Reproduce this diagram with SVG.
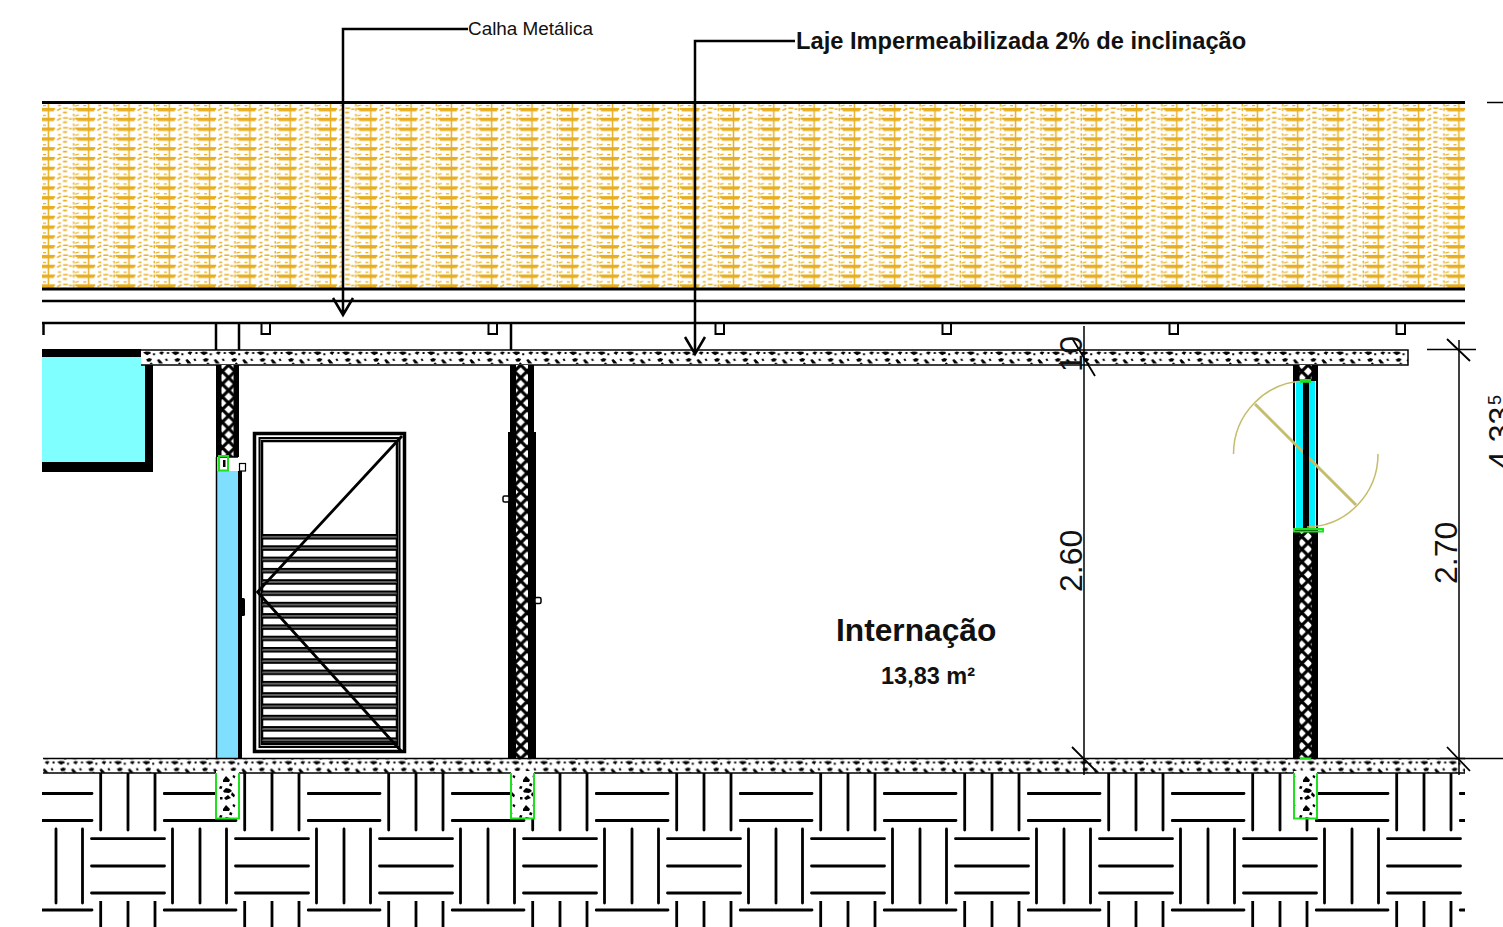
<svg xmlns="http://www.w3.org/2000/svg" xmlns:xlink="http://www.w3.org/1999/xlink" width="1503" height="927" viewBox="0 0 1503 927">
<style>
text{font-family:"Liberation Sans",Arial,sans-serif;fill:#111}
.k{stroke:#000;fill:none}
.b{font-weight:bold}
.gr{fill:none;stroke:#1fe01f;stroke-width:2}
.ar{fill:none;stroke:#c4bd6c}
</style>
<defs>
<pattern id="ins" width="40.3" height="9.8" patternUnits="userSpaceOnUse" patternTransform="translate(42 104)">
<g stroke="#e6ae20" fill="none">
<path d="M33 4.800H41M-7.300 4.800H13M-5 6.400H12M35 6.400H41" stroke-width="2"/>
<path d="M6.400 0V9.800" stroke-width="1.500"/>
<path d="M31.700 0V2.500M31.700 4V7" stroke-width="1.400"/>
<path d="M15 6.500L19 4.500M21 4.200H26M27 5.200H30M21 8.500H25M16 1.500H19" stroke-width="1.600"/>
<path d="M33 2L37 1M1 1.500H4" stroke-width="1.200"/>
</g>
</pattern>
<g id="blobs">
<path d="M1 2.500l3-1 4 .2 1 1.500-4 2zM17 3l2-1.500 3 .5-2 3zM11 3.200h2v2h-2zM25 2h2v2h-2zM4 9.500l3-1.500 3 1-1.500 2.500-3 .2zM15 10l2-1 2 2 2 2.500-4 0zM23 9l1.800-.6 1.200 2-1.800 .8zM8 13l1.500-.6 1.200 1.600h-2.700z" fill="#000"/>
</g>
<pattern id="con1" width="28.4" height="15" patternUnits="userSpaceOnUse" patternTransform="translate(142 350)"><use xlink:href="#blobs"/></pattern>
<pattern id="con2" width="28.4" height="14" patternUnits="userSpaceOnUse" patternTransform="translate(56 759.500)"><use xlink:href="#blobs"/></pattern>
<pattern id="con3" width="20" height="29" patternUnits="userSpaceOnUse" patternTransform="translate(218 773)">
<path d="M5 7l3-4 4 4-1 2H5zM12 10l2.500 1-1 2.500-2.500-1zM2 13l2.500 .5-1 2.500-2.500-.5zM5 18l3-3 4 1 2 2-3 2-5-.5zM14 19l3 3-1 2.500-3-2.500zM6 25l4-3 3 3-5 2zM2 24h2.500v2.500H2zM15 2l2.500 1-1 2.500-2-1.500z" fill="#000"/>
</pattern>
<pattern id="lat" width="12.7" height="12.7" patternUnits="userSpaceOnUse" patternTransform="translate(0 365)">
<rect width="12.7" height="12.700" fill="#fff"/>
<path d="M0 0L12.700 12.700M12.700 0L0 12.700" stroke="#000" stroke-width="3.200"/>
</pattern>
<pattern id="floor" width="144" height="144" patternUnits="userSpaceOnUse" patternTransform="translate(19 757)">
<g stroke="#000" stroke-width="2.800" stroke-linecap="round" fill="none">
<path d="M1 9H73M1 36.500H73M1 63.500H73"/>
<path d="M81.700 0V73M109 0V73M136 0V73"/>
<path d="M72.500 81.700H147M72.500 109H147M72.500 136H147M-3 81.700H1.500M-3 109H1.500M-3 136H1.500"/>
<path d="M9.500 72V146M37 72V146M63.500 72V146M9.500 -3V2M37 -3V2M63.500 -3V2"/>
</g>
</pattern>
<pattern id="lou" width="144" height="11.300" patternUnits="userSpaceOnUse" patternTransform="translate(262 534)">
<rect width="144" height="2.400" y="0" fill="#000"/><rect width="144" height="1.300" y="2.400" fill="#555"/><rect width="144" height="1.800" y="3.700" fill="#000"/>
</pattern>
</defs>

<g id="insulation">
<rect x="42" y="103" width="1423" height="185" fill="url(#ins)"/>
<path class="k" stroke-width="3" d="M42 102.500H1465M42 289H1465"/>
<path class="k" stroke-width="2.500" d="M42 301H1465"/>
<path class="k" stroke-width="1.500" d="M1487 102.500H1503"/>
</g>

<g id="gutter">
<path class="k" stroke-width="2.500" d="M42 323H1465M43.500 323V335M216 323V350M239 323V350M511 323V350"/>
<path class="k" stroke-width="2" d="M261.500 323V334H270V323M488.500 323V334H497V323M715.500 323V334H724V323M942.500 323V334H951V323M1169.500 323V334H1178V323M1396.500 323V334H1405V323"/>
</g>

<g id="window-left">
<rect x="42" y="355" width="104" height="108" fill="#7fffff"/>
<rect x="42" y="349" width="99" height="8" fill="#000"/>
<rect x="145" y="365" width="8" height="107" fill="#000"/>
<rect x="42" y="462" width="111" height="10" fill="#000"/>
</g>

<g id="slab">
<rect x="141" y="350" width="1267" height="15" fill="#fff"/>
<rect x="141" y="350" width="1267" height="15" fill="url(#con1)"/>
<path class="k" stroke-width="1.500" d="M141 350H1408V365H141"/>
</g>

<g id="wall-1">
<rect x="216" y="365" width="23" height="92" fill="#000"/>
<rect x="221.500" y="365" width="12" height="92" fill="url(#lat)"/>
<rect x="218" y="457" width="20" height="14" fill="#fff"/>
<rect x="217" y="471" width="21" height="288" fill="#80dfff"/>
<rect x="238" y="471" width="4" height="288" fill="#000"/>
<path class="k" stroke-width="1.500" d="M216.500 457V759M218 457H238"/>
<rect x="239.500" y="463.500" width="6" height="7.500" fill="#fff" stroke="#000" stroke-width="1.200"/>
<rect x="240" y="598" width="5" height="18" rx="1.500" fill="#000"/>
<rect x="219" y="456" width="9" height="14.500" class="gr"/>
<rect x="223" y="460" width="2.500" height="7" fill="#000"/>
</g>

<g id="door">
<rect x="254.500" y="433.500" width="150" height="318" class="k" stroke-width="3.500"/>
<rect x="259.500" y="438" width="140" height="309" class="k" stroke-width="2"/>
<rect x="262" y="441" width="135" height="303" class="k" stroke-width="2.500"/>
<rect x="262" y="534" width="135" height="211" fill="url(#lou)"/>
<path class="k" stroke-width="2.800" d="M402 436L257.500 592L402 752"/>
</g>

<g id="wall-2">
<rect x="510" y="365" width="24" height="394" fill="#000"/>
<rect x="508" y="432" width="28" height="327" fill="#000"/>
<rect x="516" y="365" width="12" height="394" fill="url(#lat)"/>
<rect x="503" y="496" width="6" height="6" rx="1.500" fill="#fff" stroke="#000" stroke-width="1.500"/>
<rect x="535" y="597.500" width="6" height="6" rx="1.500" fill="#fff" stroke="#000" stroke-width="1.500"/>
</g>

<g id="wall-3">
<rect x="1293" y="365" width="25" height="394" fill="#000"/>
<rect x="1299.500" y="365" width="12" height="15" fill="url(#lat)"/>
<rect x="1299.500" y="532" width="12" height="227" fill="url(#lat)"/>
<rect x="1295" y="381" width="21" height="148" fill="#fff"/>
<rect x="1296" y="381" width="7" height="148" fill="#00f0ff"/>
<rect x="1309" y="381" width="6" height="148" fill="#00f0ff"/>
<path class="ar" stroke-width="3" d="M1255 404L1356 505"/>
<rect x="1303" y="381" width="6" height="148" fill="#000"/>
<path class="ar" stroke-width="1.500" d="M1305 381A73 73 0 0 0 1233.500 454M1307 527A72 73 0 0 0 1378 454"/>
<rect x="1301" y="380" width="9" height="1.800" class="gr" stroke-width="1.200"/>
<rect x="1294" y="529" width="29" height="2.500" class="gr" stroke-width="1.500"/>
</g>

<g id="floor-slab">
<rect x="42" y="773" width="1423" height="154" fill="url(#floor)"/>
<rect x="43" y="759" width="1422" height="14" fill="#fff"/>
<rect x="43" y="759" width="1422" height="14" fill="url(#con2)"/>
<path class="k" stroke-width="1.500" d="M43 758.500H1465M43 773H1465"/>
</g>

<g id="footings">
<rect x="216" y="771" width="23" height="48" fill="#fff"/><rect x="216" y="771" width="23" height="48" fill="url(#con3)"/>
<path class="gr" d="M216 773V818.500H239V773"/>
<rect x="511" y="771" width="23" height="48" fill="#fff"/><rect x="511" y="771" width="23" height="48" fill="url(#con3)"/>
<path class="gr" d="M511 773V818.500H534V773"/>
<rect x="1294" y="771" width="23" height="48" fill="#fff"/><rect x="1294" y="771" width="23" height="48" fill="url(#con3)"/>
<path class="gr" d="M1294 773V818.500H1317V773M1300 758.500H1311"/>
</g>

<g id="dimensions">
<path class="k" stroke-width="1.500" d="M1084 326V775M1459 340V775M1427 349.500H1476M1440 758.500H1503"/>
<path class="k" stroke-width="1.800" d="M1072 338L1095 376M1072 747L1095 770M1447 747L1470 771M1447 339L1470 361"/>
<text transform="translate(1082 592) rotate(-90)" font-size="32">2.60</text>
<text transform="translate(1082 372) rotate(-90)" font-size="32" textLength="36">10</text>
<text transform="translate(1457 584) rotate(-90)" font-size="32">2.70</text>
<text transform="translate(1511 469) rotate(-90)" font-size="32">4.33</text>
<text transform="translate(1501 405) rotate(-90)" font-size="18">5</text>
</g>

<g id="leaders">
<path class="k" stroke-width="2.500" d="M468 29H343V315M333 298L343 315L353 298"/>
<path class="k" stroke-width="2.500" d="M795 41H695V354M685 337L695 354L705 337"/>
</g>

<g id="labels">
<text id="t-calha" x="468" y="34.500" font-size="18.900">Calha Metálica</text>
<text id="t-laje" class="b" x="796" y="48.500" font-size="23.700">Laje Impermeabilizada 2% de inclinação</text>
<text id="t-room" class="b" x="836" y="641" font-size="31.700">Internação</text>
<text id="t-area" class="b" x="881" y="684" font-size="23.500">13,83 m²</text>
</g>
</svg>
